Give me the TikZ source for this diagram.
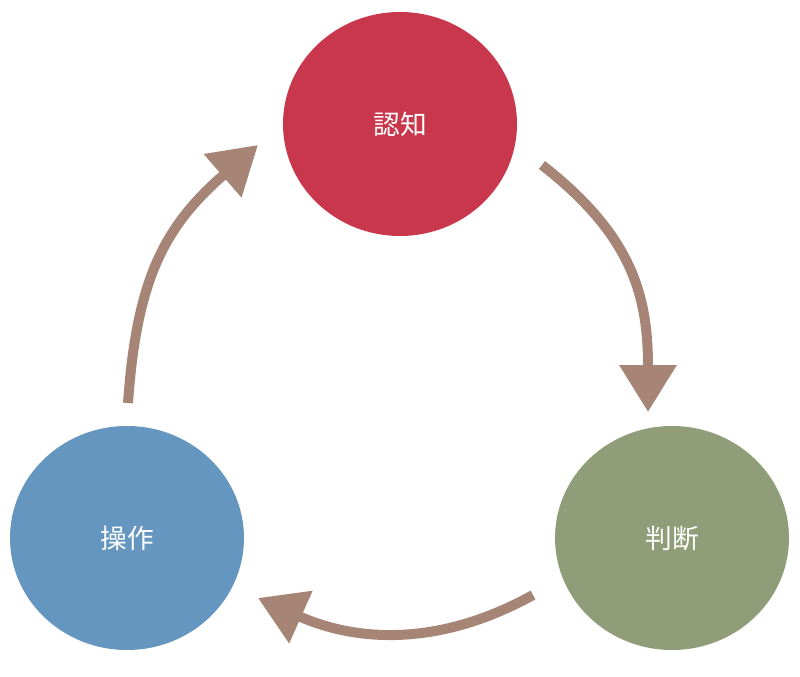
\documentclass[tikz,border=0pt]{standalone}
\usepackage{fontspec}
\usepackage{tikz}
\usepackage{xcolor}
\usetikzlibrary{arrows.meta}
\usetikzlibrary{shapes.geometric}
\newfontfamily\jpfont{Noto Sans CJK JP}
\definecolor{ninchired}{HTML}{C8374B}
\definecolor{handangreen}{HTML}{8F9E78}
\definecolor{sousablue}{HTML}{6496C0}
\definecolor{arrowbrown}{HTML}{A68576}
\tikzset{
	stage/.style={ellipse,inner sep=0pt,minimum width=166.4pt,minimum height=159.3pt,
		text=white,font=\jpfont\fontsize{19}{21}\selectfont},
	cycle/.style={arrowbrown,line width=7.1pt,
		-{Triangle[length=33.4pt,width=39.1pt]}}
}
\newcommand{\stagetext}[1]{\raisebox{-3pt}{#1}}
\begin{document}
\begin{tikzpicture}[x=0.025cm,y=0.025cm]
\useasboundingbox (0,0) rectangle (800,676);

\node[stage,fill=ninchired] (ninchi) at (400,552) {\stagetext{認知}};
\node[stage,fill=handangreen] (handan) at (672,138) {\stagetext{判断}};
\node[stage,fill=sousablue] (sousa) at (127,138) {\stagetext{操作}};

\coordinate (a1) at (542,511);
\coordinate (a2) at (648,264);
\coordinate (b1) at (533,81);
\coordinate (b2) at (258,78);
\coordinate (c1) at (128,273);
\coordinate (c2) at (258,531);

\draw[cycle] (a1) to[out=-38,in=90,looseness=1.1] (a2);
\draw[cycle] (b1) to[out=209,in=336] (b2);
\draw[cycle] (c1) to[out=86,in=221,looseness=1.1] (c2);

\end{tikzpicture}
\end{document}
